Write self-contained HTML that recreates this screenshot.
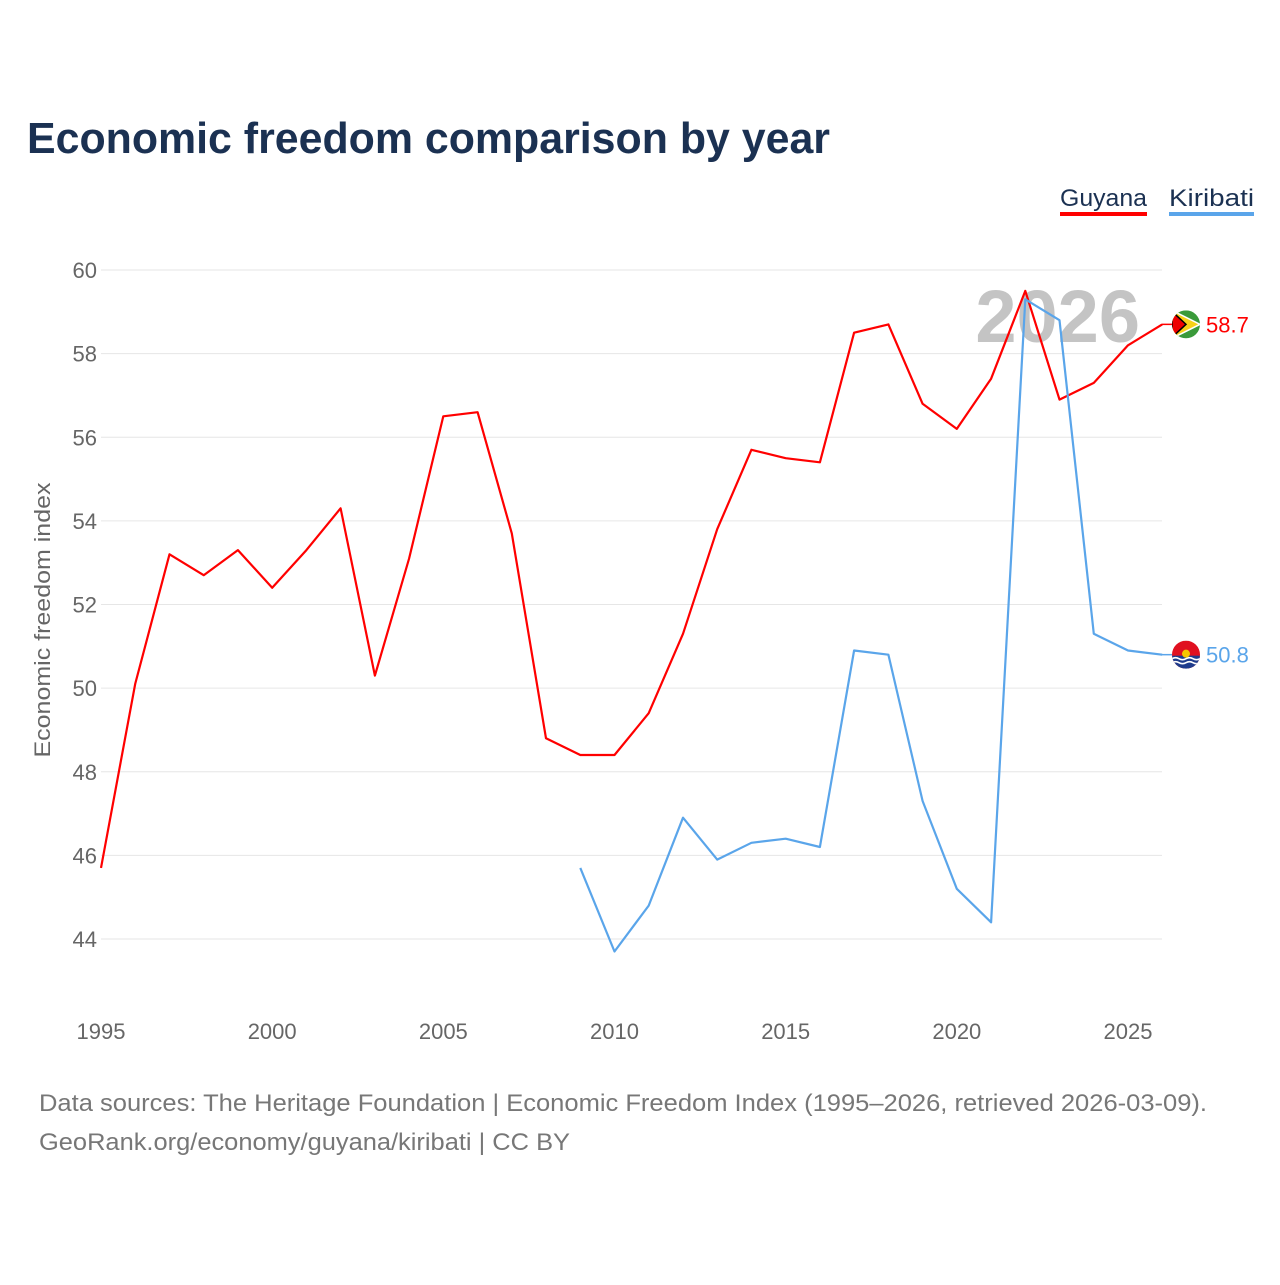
<!DOCTYPE html>
<html><head><meta charset="utf-8">
<style>
body{margin:0;background:#fff;font-family:"Liberation Sans",sans-serif;}
#wrap{position:relative;width:1280px;height:1280px;}
</style></head>
<body><div id="wrap">
<svg id="chart" width="1280" height="1280"></svg>
</div>
<script>
const years = [1995,1996,1997,1998,1999,2000,2001,2002,2003,2004,2005,2006,2007,2008,2009,2010,2011,2012,2013,2014,2015,2016,2017,2018,2019,2020,2021,2022,2023,2024,2025,2026];
const guyana = [45.7,50.1,53.2,52.7,53.3,52.4,53.3,54.3,50.3,53.1,56.5,56.6,53.7,48.8,48.4,48.4,49.4,51.3,53.8,55.7,55.5,55.4,58.5,58.7,56.8,56.2,57.4,59.5,56.9,57.3,58.2,58.7];
const kiribatiYears = [2009,2010,2011,2012,2013,2014,2015,2016,2017,2018,2019,2020,2021,2022,2023,2024,2025,2026];
const kiribati = [45.7,43.7,44.8,46.9,45.9,46.3,46.4,46.2,50.9,50.8,47.3,45.2,44.4,59.3,58.8,51.3,50.9,50.8];
const yTicks = [44,46,48,50,52,54,56,58,60];
const xTicks = [1995,2000,2005,2010,2015,2020,2025];

const NS="http://www.w3.org/2000/svg";
const svg=document.getElementById('chart');
const X=y=>101+(y-1995)*(1128-101)/30;
const Y=v=>270+(60-v)*(939-270)/16;
function el(tag,attrs,text){const e=document.createElementNS(NS,tag);for(const k in attrs)e.setAttribute(k,attrs[k]);if(text!==undefined)e.textContent=text;svg.appendChild(e);return e;}

let t=el('text',{x:27,y:153,'font-size':44,'font-weight':'bold',fill:'#1b3152',textLength:803,lengthAdjust:'spacingAndGlyphs'},'Economic freedom comparison by year');



yTicks.forEach(v=>{
  let g=el('line',{x1:101,x2:1162,y1:Y(v),y2:Y(v),stroke:'#e6e6e6','stroke-width':1});
  
  
  let l=el('text',{x:97,y:Y(v)+8,'font-size':22,fill:'#666','text-anchor':'end'},v);
  
  
});
xTicks.forEach(v=>{
  let l=el('text',{x:X(v),y:1039,'font-size':22,fill:'#666','text-anchor':'middle'},v);
  
  
});
let yt=el('text',{x:50,y:620,'font-size':22,fill:'#666','text-anchor':'middle',transform:'rotate(-90 50 620)',textLength:275,lengthAdjust:'spacingAndGlyphs'},'Economic freedom index');



let wm=el('text',{x:1140,y:342,'font-size':74,'font-weight':'bold',fill:'#c4c4c4','text-anchor':'end'},'2026');



function line(xs,vs,color,name){
  let d=xs.map((x,i)=>(i?'L':'M')+X(x).toFixed(1)+','+Y(vs[i]).toFixed(1)).join(' ');
  let p=el('path',{d:d,fill:'none',stroke:color,'stroke-width':2.2,'stroke-linejoin':'round'});
  
  
}
line(years,guyana,'#ff0000','guyana-line');
line(kiribatiYears,kiribati,'#5aa5ea','kiribati-line');

function endLabel(v,color,name,flag){
  const y=Y(v);
  el('line',{x1:1162,x2:1172,y1:y,y2:y,stroke:color,'stroke-width':1.5});
  const g=document.createElementNS(NS,'g');svg.appendChild(g);
  
  
  g.innerHTML=flag(1186,y);
  let l=el('text',{x:1206,y:y+8,'font-size':22,fill:color},v.toFixed(1));
  
  
}
endLabel(guyana[guyana.length-1],'#ff0000','guyana',(cx,cy)=>`<clipPath id="cg"><circle cx="${cx}" cy="${cy}" r="14"/></clipPath><g clip-path="url(#cg)"><rect x="${cx-14}" y="${cy-14}" width="28" height="28" fill="#3a9a3a"/><polygon points="${cx-14},${cy-14} ${cx+14},${cy} ${cx-14},${cy+14}" fill="#f7d117" stroke="#fff" stroke-width="1.5"/><polygon points="${cx-14},${cy-13} ${cx},${cy} ${cx-14},${cy+13}" fill="#e00" stroke="#000" stroke-width="1.5"/></g>`);
endLabel(kiribati[kiribati.length-1],'#5aa5ea','kiribati',(cx,cy)=>`<clipPath id="ck"><circle cx="${cx}" cy="${cy}" r="14"/></clipPath><g clip-path="url(#ck)"><rect x="${cx-14}" y="${cy-14}" width="28" height="28" fill="#e01020"/><rect x="${cx-14}" y="${cy+1}" width="28" height="14" fill="#1f3c8c"/><path d="M${cx-14} ${cy+4}q3.5 -2 7 0t7 0t7 0t7 0M${cx-14} ${cy+8}q3.5 -2 7 0t7 0t7 0t7 0" stroke="#fff" stroke-width="1.6" fill="none"/><circle cx="${cx}" cy="${cy-1}" r="4" fill="#f7c600"/></g>`);

function legend(x,w,color,label,name){
  let tx=el('text',{x:x,y:206,'font-size':24,fill:'#1b3152',textLength:w,lengthAdjust:'spacingAndGlyphs'},label);
  
  
  let r=el('rect',{x:x,y:212,width:w,height:4,fill:color});
  
  
}
legend(1060,87,'#ff0000','Guyana','guyana');
legend(1169,85,'#5aa5ea','Kiribati','kiribati');

let s1=el('text',{x:39,y:1111,'font-size':24,fill:'#777',textLength:1168,lengthAdjust:'spacingAndGlyphs'},'Data sources: The Heritage Foundation | Economic Freedom Index (1995–2026, retrieved 2026-03-09).');


let s2=el('text',{x:39,y:1150,'font-size':24,fill:'#777',textLength:531,lengthAdjust:'spacingAndGlyphs'},'GeoRank.org/economy/guyana/kiribati | CC BY');


</script>
</body></html>
